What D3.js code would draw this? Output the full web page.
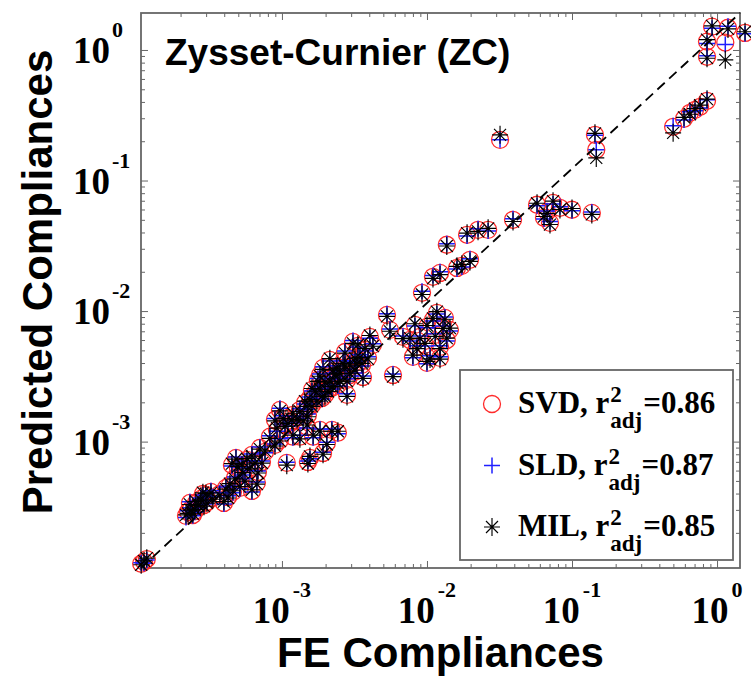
<!DOCTYPE html>
<html>
<head>
<meta charset="utf-8">
<script src="https://cdn.jsdelivr.net/npm/d3@7"></script>
<style>
  html, body { margin: 0; padding: 0; background: #fff; }
  svg { display: block; }
</style>
</head>
<body>
<svg id="chart" width="751" height="677"></svg>
<script>
// FE (finite element) compliances, one entry per sample
const feCompliance = [
  1.07e-4, 1.17e-4, 1.12e-4,
  2.18e-4, 2.36e-4, 2.55e-4, 2.76e-4, 2.99e-4, 3.24e-4, 2.51e-4, 2.90e-4, 2.32e-4,
  3.73e-4, 3.98e-4, 4.38e-4, 4.74e-4, 4.97e-4, 5.38e-4, 5.74e-4, 6.21e-4, 6.72e-4, 6.21e-4, 4.25e-4, 5.13e-4, 7.05e-4, 7.28e-4, 4.52e-4,
  8.26e-4, 9.24e-4, 1.02e-3, 9.69e-4, 1.10e-3, 8.95e-4, 1.19e-3, 1.08e-3, 1.51e-3, 1.49e-3, 1.83e-3, 2.43e-3, 2.04e-3, 1.56e-3, 1.92e-3, 1.33e-3, 1.64e-3, 2.21e-3,
  1.33e-3, 1.44e-3, 1.56e-3, 1.69e-3, 1.83e-3, 1.98e-3, 2.14e-3, 2.32e-3, 2.51e-3, 2.72e-3, 2.94e-3, 3.19e-3, 3.45e-3, 1.61e-3, 1.89e-3, 2.08e-3, 2.43e-3, 2.81e-3, 3.19e-3, 2.81e-3, 1.77e-3, 1.92e-3, 2.25e-3, 2.64e-3, 3.09e-3, 4.04e-3, 4.24e-3, 3.74e-3, 3.62e-3, 1.51e-3, 1.19e-3, 3.56e-3,
  5.30e-3, 9.24e-3, 5.83e-3, 1.17e-2, 1.29e-2, 1.44e-2, 1.00e-2, 8.95e-3, 7.64e-3, 6.83e-3, 8.00e-3, 1.05e-2, 1.00e-2, 1.23e-2, 1.10e-2, 1.33e-2, 5.56e-3, 1.37e-2, 8.53e-3,
  1.23e-2, 1.61e-2, 1.98e-2, 1.37e-2, 1.89e-2, 2.25e-2, 2.64e-2, 3.92e-2, 5.74e-2, 6.73e-2, 7.40e-2, 7.05e-2, 0.100, 0.137, 6.41e-2, 8.26e-2, 1.10e-2, 1.74e-2,
  3.19e-2, 0.144, 0.147,
  0.498, 0.592, 0.651, 0.764, 0.853, 0.705,
  0.924, 1.19, 1.56, 0.853, 1.14, 0.853,
  2.25e-4, 2.64e-4, 3.04e-4, 2.43e-4, 2.85e-4, 3.34e-4,
  4.11e-4, 4.59e-4, 5.56e-4, 6.01e-4, 6.52e-4, 5.30e-4, 4.82e-4, 6.83e-4, 7.64e-4,
  1.05e-3, 1.17e-3, 1.27e-3, 1.40e-3, 1.49e-3, 1.74e-3, 1.61e-3, 1.98e-3, 2.21e-3, 2.51e-3, 2.94e-3, 2.39e-3, 3.29e-3, 3.92e-3, 2.14e-3, 2.72e-3, 3.34e-3, 1.83e-3, 8.95e-4, 9.69e-4,
  1.14e-2, 9.69e-3, 1.23e-2, 8.26e-3
];

// Predicted compliances, fabric tensor from SVD
const svdPredicted = [
  1.16e-4, 1.26e-4, 1.20e-4,
  2.70e-4, 3.05e-4, 3.39e-4, 3.64e-4, 3.91e-4, 4.12e-4, 2.94e-4, 3.27e-4, 3.39e-4,
  3.97e-4, 3.39e-4, 4.66e-4, 5.27e-4, 6.28e-4, 5.65e-4, 7.24e-4, 7.91e-4, 4.83e-4, 4.19e-4, 3.77e-4, 4.42e-4, 8.95e-4, 6.99e-4, 6.63e-4,
  1.09e-3, 1.23e-3, 1.55e-3, 1.75e-3, 1.34e-3, 9.44e-4, 1.09e-3, 6.87e-4, 6.99e-4, 1.30e-3, 1.23e-3, 1.17e-3, 9.77e-4, 7.50e-4, 8.19e-4, 1.09e-3, 1.09e-3, 1.23e-3,
  1.75e-3, 1.98e-3, 2.16e-3, 2.36e-3, 2.58e-3, 2.77e-3, 2.97e-3, 3.19e-3, 3.42e-3, 3.67e-3, 3.94e-3, 4.23e-3, 4.54e-3, 1.91e-3, 2.16e-3, 2.49e-3, 2.72e-3, 2.97e-3, 3.42e-3, 2.28e-3, 2.97e-3, 3.67e-3, 3.42e-3, 4.08e-3, 5.81e-3, 6.34e-3, 5.51e-3, 5.04e-3, 3.13e-3, 1.60e-3, 1.60e-3, 3.87e-3,
  9.35e-3, 1.38e-2, 3.24e-3, 9.68e-3, 7.57e-3, 7.18e-3, 7.57e-3, 6.34e-3, 6.01e-3, 6.34e-3, 4.46e-3, 4.46e-3, 4.01e-3, 5.32e-3, 8.57e-3, 8.87e-3, 7.18e-3, 6.01e-3, 5.32e-3,
  1.96e-2, 2.14e-2, 2.47e-2, 3.22e-2, 3.84e-2, 4.19e-2, 4.19e-2, 5.00e-2, 6.52e-2, 5.75e-2, 6.75e-2, 4.74e-2, 5.97e-2, 5.65e-2, 5.18e-2, 6.18e-2, 1.83e-2, 2.22e-2,
  0.205, 0.224, 0.172,
  0.258, 0.297, 0.330, 0.367, 0.408, 0.348,
  1.51, 1.48, 1.35, 1.16, 1.14, 0.887,
  2.89e-4, 3.16e-4, 3.45e-4, 2.74e-4, 3.97e-4, 3.71e-4,
  4.42e-4, 4.12e-4, 5.09e-4, 6.07e-4, 6.99e-4, 6.52e-4, 7.50e-4, 5.86e-4, 8.34e-4,
  1.34e-3, 1.42e-3, 1.52e-3, 1.47e-3, 1.81e-3, 2.09e-3, 2.49e-3, 2.28e-3, 2.58e-3, 2.97e-3, 3.24e-3, 3.74e-3, 3.87e-3, 4.38e-3, 4.23e-3, 4.86e-3, 5.41e-3, 3.24e-3, 1.47e-3, 1.03e-3,
  6.57e-3, 5.51e-3, 4.38e-3, 7.84e-3
];

// Predicted compliances, fabric tensor from SLD
const sldPredicted = [
  1.18e-4, 1.24e-4, 1.17e-4,
  2.62e-4, 3.12e-4, 3.30e-4, 3.70e-4, 3.85e-4, 4.20e-4, 2.88e-4, 3.33e-4, 3.46e-4,
  4.05e-4, 3.32e-4, 4.58e-4, 5.35e-4, 6.40e-4, 5.55e-4, 7.10e-4, 8.05e-4, 4.90e-4, 4.12e-4, 3.84e-4, 4.35e-4, 9.10e-4, 7.10e-4, 6.50e-4,
  1.11e-3, 1.20e-3, 1.58e-3, 1.80e-3, 1.31e-3, 9.60e-4, 1.07e-3, 6.95e-4, 7.10e-4, 1.27e-3, 1.25e-3, 1.15e-3, 9.90e-4, 7.40e-4, 8.30e-4, 1.12e-3, 1.07e-3, 1.25e-3,
  1.79e-3, 1.94e-3, 2.20e-3, 2.32e-3, 2.63e-3, 2.72e-3, 3.03e-3, 3.13e-3, 3.49e-3, 3.60e-3, 4.02e-3, 4.15e-3, 4.62e-3, 1.95e-3, 2.12e-3, 2.54e-3, 2.67e-3, 3.03e-3, 3.36e-3, 2.33e-3, 3.05e-3, 3.75e-3, 3.35e-3, 4.16e-3, 5.95e-3, 6.20e-3, 5.62e-3, 4.95e-3, 3.18e-3, 1.63e-3, 1.57e-3, 3.80e-3,
  9.55e-3, 1.42e-2, 3.30e-3, 9.50e-3, 7.70e-3, 7.05e-3, 7.45e-3, 6.45e-3, 5.90e-3, 6.45e-3, 4.38e-3, 4.55e-3, 3.94e-3, 5.42e-3, 8.40e-3, 9.02e-3, 7.30e-3, 5.90e-3, 5.42e-3,
  2.00e-2, 2.10e-2, 2.52e-2, 3.28e-2, 3.76e-2, 4.27e-2, 4.10e-2, 5.10e-2, 6.40e-2, 5.85e-2, 6.62e-2, 4.85e-2, 5.87e-2, 5.75e-2, 5.08e-2, 6.30e-2, 1.87e-2, 2.18e-2,
  0.205, 0.222, 0.172,
  0.263, 0.291, 0.336, 0.360, 0.416, 0.342,
  1.47, 1.52, 1.33, 1.12, 1.10, 0.905,
  2.95e-4, 3.10e-4, 3.52e-4, 2.70e-4, 3.90e-4, 3.78e-4,
  4.50e-4, 4.05e-4, 5.20e-4, 6.00e-4, 7.12e-4, 6.40e-4, 7.62e-4, 5.95e-4, 8.20e-4,
  1.37e-3, 1.39e-3, 1.56e-3, 1.50e-3, 1.77e-3, 2.14e-3, 2.44e-3, 2.33e-3, 2.53e-3, 3.03e-3, 3.18e-3, 3.81e-3, 3.80e-3, 4.46e-3, 4.15e-3, 4.95e-3, 5.30e-3, 3.30e-3, 1.50e-3, 1.05e-3,
  6.70e-3, 5.40e-3, 4.46e-3, 7.70e-3
];

// Predicted compliances, fabric tensor from MIL
const milPredicted = [
  1.14e-4, 1.28e-4, 1.22e-4,
  2.75e-4, 2.98e-4, 3.48e-4, 3.56e-4, 4.00e-4, 4.05e-4, 3.02e-4, 3.20e-4, 3.30e-4,
  3.88e-4, 3.47e-4, 4.76e-4, 5.18e-4, 6.45e-4, 5.78e-4, 7.40e-4, 7.75e-4, 4.72e-4, 4.28e-4, 3.70e-4, 4.52e-4, 8.75e-4, 6.85e-4, 6.78e-4,
  1.06e-3, 1.27e-3, 1.50e-3, 1.72e-3, 1.38e-3, 9.25e-4, 1.12e-3, 6.60e-4, 6.80e-4, 1.34e-3, 1.20e-3, 1.20e-3, 9.50e-4, 7.70e-4, 8.00e-4, 1.05e-3, 1.12e-3, 1.20e-3,
  1.70e-3, 2.04e-3, 2.10e-3, 2.43e-3, 2.52e-3, 2.85e-3, 2.90e-3, 3.28e-3, 3.33e-3, 3.78e-3, 3.85e-3, 4.35e-3, 4.42e-3, 1.86e-3, 2.22e-3, 2.42e-3, 2.80e-3, 2.90e-3, 3.52e-3, 2.22e-3, 2.89e-3, 3.58e-3, 3.52e-3, 3.98e-3, 5.65e-3, 6.50e-3, 5.38e-3, 5.18e-3, 3.05e-3, 1.55e-3, 1.65e-3, 3.97e-3,
  9.10e-3, 1.34e-2, 3.15e-3, 9.90e-3, 7.35e-3, 7.40e-3, 7.75e-3, 6.15e-3, 6.20e-3, 6.15e-3, 4.60e-3, 4.30e-3, 4.12e-3, 5.15e-3, 8.80e-3, 8.65e-3, 7.00e-3, 6.20e-3, 5.15e-3,
  1.90e-2, 2.20e-2, 2.40e-2, 3.15e-2, 3.95e-2, 4.08e-2, 4.30e-2, 4.85e-2, 6.70e-2, 5.60e-2, 6.95e-2, 4.60e-2, 6.10e-2, 5.50e-2, 5.30e-2, 6.00e-2, 1.78e-2, 2.28e-2,
  0.224, 0.230, 0.149,
  0.232, 0.305, 0.322, 0.378, 0.420, 0.355,
  1.53, 1.45, 1.38, 1.20, 0.841, 0.865,
  2.82e-4, 3.24e-4, 3.38e-4, 2.80e-4, 4.06e-4, 3.62e-4,
  4.33e-4, 4.20e-4, 4.98e-4, 6.18e-4, 6.85e-4, 6.65e-4, 7.35e-4, 5.75e-4, 8.50e-4,
  1.31e-3, 1.46e-3, 1.48e-3, 1.44e-3, 1.86e-3, 2.04e-3, 2.55e-3, 2.22e-3, 2.64e-3, 2.90e-3, 3.31e-3, 3.66e-3, 3.95e-3, 4.29e-3, 4.32e-3, 4.76e-3, 5.52e-3, 3.17e-3, 1.44e-3, 1.01e-3,
  6.40e-3, 5.65e-3, 4.28e-3, 8.00e-3
];

const seriesNames = ["SVD", "SLD", "MIL"];
const seriesR2adj = [0.86, 0.87, 0.85];

// Axis limits and decade ticks
const xLimits = [1.067e-4, 1.44];
const yLimits = [1.076e-4, 1.92];
const xMajorTicks = [1e-3, 1e-2, 1e-1, 1e0];
const yMajorTicks = [1e-3, 1e-2, 1e-1, 1e0];
const minorMultipliers = [2, 3, 4, 5, 6, 7, 8, 9];
const decades = [1e-4, 1e-3, 1e-2, 1e-1, 1e0];

const titleText = "Zysset-Curnier (ZC)";
const xTitle = "FE Compliances";
const yTitle = "Predicted Compliances";

// ---------------------------------------------------------------
const svg = d3.select("#chart");
const plot = { left: 141, right: 740, top: 13, bottom: 568 };

const x = d3.scaleLog().domain(xLimits).range([plot.left, plot.right]);
const y = d3.scaleLog().domain(yLimits).range([plot.bottom, plot.top]);

const serif = "'Liberation Serif', 'Times New Roman', serif";
const sans = "'Liberation Sans', Arial, sans-serif";
const axisGrey = "#666";

svg.append("rect").attr("width", 751).attr("height", 677).attr("fill", "#fff");

// minor tick positions inside each axis range
const inRange = (v, lim) => v >= lim[0] && v <= lim[1];
const minorX = decades.flatMap(d => minorMultipliers.map(m => m * d)).filter(v => inRange(v, xLimits));
const minorY = decades.flatMap(d => minorMultipliers.map(m => m * d)).filter(v => inRange(v, yLimits));

function drawAxis(axisFn, scale, values, size, transform) {
  const g = svg.append("g")
    .attr("transform", transform)
    .call(axisFn(scale).tickValues(values).tickSize(size).tickSizeOuter(0).tickFormat(() => ""));
  g.select(".domain").remove();
  g.selectAll(".tick line").attr("stroke", axisGrey).attr("stroke-width", 1);
  g.selectAll(".tick text").remove();
}

// ticks point inward on all four sides
drawAxis(d3.axisBottom, x, xMajorTicks, -7, `translate(0,${plot.bottom})`);
drawAxis(d3.axisBottom, x, minorX, -4, `translate(0,${plot.bottom})`);
drawAxis(d3.axisTop, x, xMajorTicks, -7, `translate(0,${plot.top})`);
drawAxis(d3.axisTop, x, minorX, -4, `translate(0,${plot.top})`);
drawAxis(d3.axisLeft, y, yMajorTicks, -7, `translate(${plot.left},0)`);
drawAxis(d3.axisLeft, y, minorY, -4, `translate(${plot.left},0)`);
drawAxis(d3.axisRight, y, yMajorTicks, -7, `translate(${plot.right},0)`);
drawAxis(d3.axisRight, y, minorY, -4, `translate(${plot.right},0)`);

// plot box
svg.append("rect")
  .attr("x", plot.left).attr("y", plot.top)
  .attr("width", plot.right - plot.left).attr("height", plot.bottom - plot.top)
  .attr("fill", "none").attr("stroke", axisGrey).attr("stroke-width", 1.8);

// tick labels as 10^n
const expOf = v => String(Math.round(Math.log10(v)));

xMajorTicks.forEach(v => {
  const g = svg.append("g");
  const base = g.append("text").attr("y", 623)
    .attr("font-family", serif).attr("font-weight", "bold").attr("font-size", 37)
    .attr("fill", "#000").text("10");
  const ex = g.append("text").attr("y", 597)
    .attr("font-family", serif).attr("font-weight", "bold").attr("font-size", 22)
    .attr("fill", "#000").text(expOf(v));
  const wb = base.node().getComputedTextLength();
  const we = ex.node().getComputedTextLength();
  const start = x(v) - (wb + 3 + we) / 2;
  base.attr("x", start);
  ex.attr("x", start + wb + 3);
});

yMajorTicks.forEach(v => {
  const yy = y(v);
  svg.append("text").attr("x", 110).attr("y", yy + 13)
    .attr("text-anchor", "end")
    .attr("font-family", serif).attr("font-weight", "bold").attr("font-size", 37)
    .attr("fill", "#000").text("10");
  svg.append("text").attr("x", 112).attr("y", yy - 13)
    .attr("font-family", serif).attr("font-weight", "bold").attr("font-size", 22)
    .attr("fill", "#000").text(expOf(v));
});

// axis titles and panel title
svg.append("text")
  .attr("x", (plot.left + plot.right) / 2).attr("y", 667)
  .attr("text-anchor", "middle")
  .attr("font-family", sans).attr("font-weight", "bold").attr("font-size", 42)
  .attr("fill", "#000").text(xTitle);

svg.append("text")
  .attr("transform", "translate(52,282) rotate(-90)")
  .attr("text-anchor", "middle")
  .attr("font-family", sans).attr("font-weight", "bold").attr("font-size", 42)
  .attr("fill", "#000").text(yTitle);

svg.append("text")
  .attr("x", 165).attr("y", 65)
  .attr("font-family", sans).attr("font-weight", "bold").attr("font-size", 37)
  .attr("fill", "#000").text(titleText);

// marker shapes
const plusPath = "M-8,0H8M0,-8V8";
const starPath = "M-8,0H8M0,-9V9M-6,-6L6,6M-6,6L6,-6";

const svdColor = "#ff2a2a", sldColor = "#1f1fff", milColor = "#000";
const circleR = 8.5;

function drawCircles(g, cx, cy) {
  g.append("circle").attr("cx", cx).attr("cy", cy).attr("r", circleR)
    .attr("fill", "none").attr("stroke", svdColor).attr("stroke-width", 1.3);
}
function drawPlus(g, cx, cy) {
  g.append("path").attr("transform", `translate(${cx},${cy})`).attr("d", plusPath)
    .attr("fill", "none").attr("stroke", sldColor).attr("stroke-width", 1.5);
}
function drawStar(g, cx, cy) {
  g.append("path").attr("transform", `translate(${cx},${cy})`).attr("d", starPath)
    .attr("fill", "none").attr("stroke", milColor).attr("stroke-width", 1.15);
}

const pts = svg.append("g");
const idx = d3.range(feCompliance.length);

pts.append("g").selectAll("circle").data(idx).join("circle")
  .attr("cx", i => x(feCompliance[i])).attr("cy", i => y(svdPredicted[i])).attr("r", circleR)
  .attr("fill", "none").attr("stroke", svdColor).attr("stroke-width", 1.3);

pts.append("g").selectAll("path").data(idx).join("path")
  .attr("transform", i => `translate(${x(feCompliance[i])},${y(sldPredicted[i])})`)
  .attr("d", plusPath)
  .attr("fill", "none").attr("stroke", sldColor).attr("stroke-width", 1.5);

pts.append("g").selectAll("path").data(idx).join("path")
  .attr("transform", i => `translate(${x(feCompliance[i])},${y(milPredicted[i])})`)
  .attr("d", starPath)
  .attr("fill", "none").attr("stroke", milColor).attr("stroke-width", 1.15);

// dashed reference line across the axes
svg.append("line")
  .attr("x1", x(xLimits[0])).attr("y1", y(yLimits[0]))
  .attr("x2", x(xLimits[1])).attr("y2", y(yLimits[1]))
  .attr("stroke", "#000").attr("stroke-width", 1.8)
  .attr("stroke-dasharray", "10,6");

// legend
const lg = svg.append("g");
lg.append("rect").attr("x", 460).attr("y", 370).attr("width", 273).attr("height", 190)
  .attr("fill", "#fff").attr("stroke", axisGrey).attr("stroke-width", 1.8);

const markerDrawers = [drawCircles, drawPlus, drawStar];
seriesNames.forEach((name, i) => {
  const cy = 404 + i * 61.5;
  markerDrawers[i](lg, 492, cy);
  const base = cy + 9;
  const t1 = lg.append("text").attr("x", 518).attr("y", base)
    .attr("font-family", serif).attr("font-weight", "bold").attr("font-size", 31)
    .attr("fill", "#000").text(name + ", r");
  const sx = 518 + t1.node().getComputedTextLength() + 1;
  const sup = lg.append("text").attr("x", sx).attr("y", base - 11)
    .attr("font-family", serif).attr("font-weight", "bold").attr("font-size", 23)
    .attr("fill", "#000").text("2");
  const sub = lg.append("text").attr("x", sx).attr("y", base + 15)
    .attr("font-family", serif).attr("font-weight", "bold").attr("font-size", 23)
    .attr("fill", "#000").text("adj");
  const w2 = Math.max(sup.node().getComputedTextLength(), sub.node().getComputedTextLength());
  lg.append("text").attr("x", sx + w2 + 1).attr("y", base)
    .attr("font-family", serif).attr("font-weight", "bold").attr("font-size", 31)
    .attr("fill", "#000").text("=" + seriesR2adj[i].toFixed(2));
});
</script>
</body>
</html>
